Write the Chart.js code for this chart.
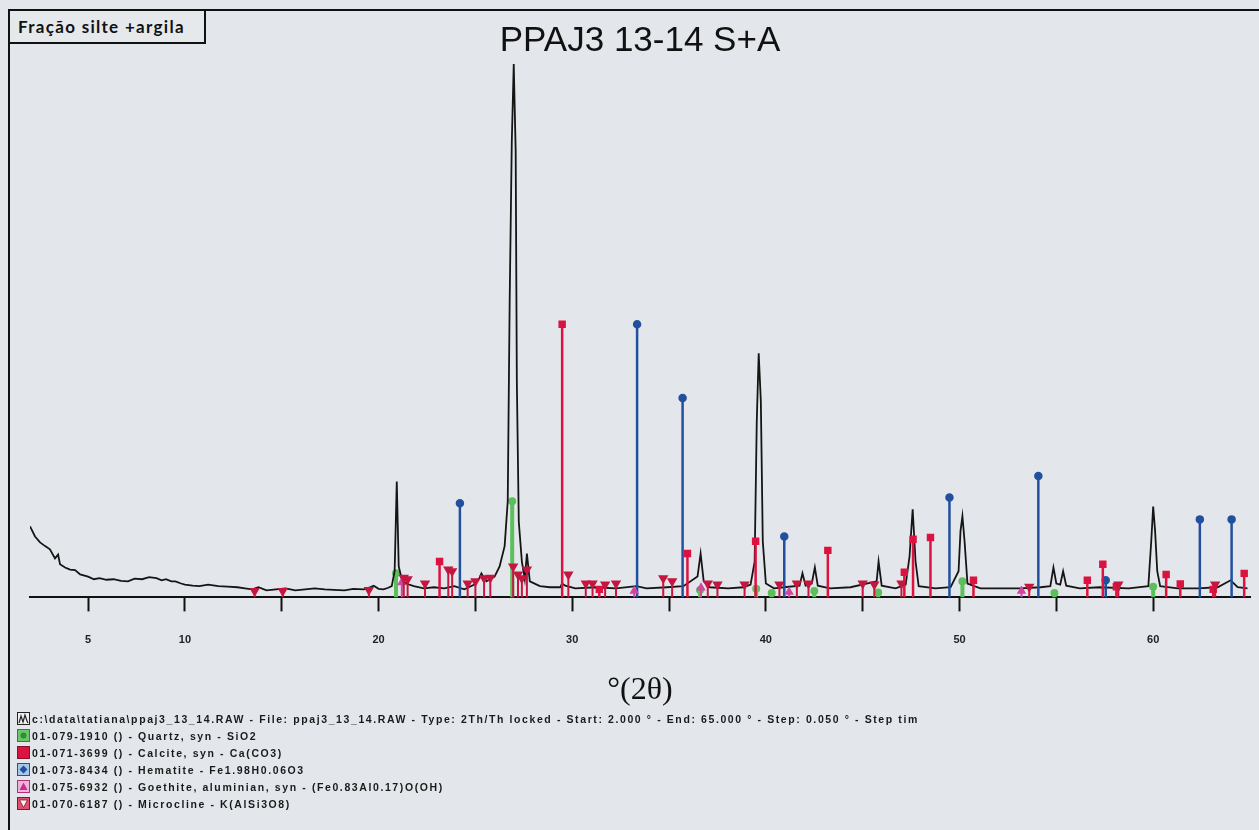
<!DOCTYPE html>
<html>
<head>
<meta charset="utf-8">
<script src="https://cdn.jsdelivr.net/npm/chart.js@4.4.1/dist/chart.umd.min.js"></script>
<style>
  html, body { margin: 0; padding: 0; background: #e3e7eb; }
  body { width: 1259px; height: 830px; position: relative; overflow: hidden; }
  #frame { position: absolute; left: 8px; top: 9px; width: 1260px; height: 830px; border-left: 2px solid #111; border-top: 2px solid #111; }
  #tag { position: absolute; left: 8px; top: 9px; width: 186px; height: 31px; border: 2px solid #111; font: 700 17px 'Lato', sans-serif; letter-spacing: 1.3px; color: #111; line-height: 31px; padding-left: 8px; box-sizing: content-box; background: #e5e9ec; white-space: nowrap; }
  #chart { position: absolute; left: 0; top: 0; }
  #legend { position: absolute; left: 17px; top: 710px; font: 700 10.5px 'Liberation Sans', sans-serif; color: #1a1a1a; letter-spacing: 1.6px; }
  #legend div { height: 17px; display: flex; align-items: center; white-space: nowrap; }
  #legend svg { margin-right: 2px; flex: none; }
  #legend .first { width: 901px; overflow: hidden; }
</style>
</head>
<body>
<div id="frame"></div>
<canvas id="chart" width="1259" height="830"></canvas>
<div id="tag">Fração silte +argila</div>
<div id="legend"></div>

<script>
// measured pattern, 2theta (deg) and counts (arbitrary)
const twoTheta = [2.00, 2.26, 2.52, 2.78, 3.03, 3.29, 3.45, 3.55, 3.81, 4.07, 4.33, 4.59, 5.00, 5.30, 5.59, 5.95, 6.32, 6.70,
    7.06, 7.40, 7.79, 8.15, 8.53, 8.80, 9.02, 9.30, 9.51, 9.80, 10.00, 10.40, 10.74, 11.20, 11.73, 12.20, 12.72, 13.10,
    13.47, 13.80, 14.21, 14.70, 15.20, 15.70, 16.21, 16.70, 17.22, 17.70, 18.23, 18.70, 19.24, 19.55, 19.75, 20.00,
    20.26, 20.50, 20.68, 20.83, 20.94, 21.04, 21.20, 21.41, 21.82, 22.34, 22.86, 23.39, 23.91, 24.43, 24.95, 25.21,
    25.31, 25.57, 25.99, 26.25, 26.51, 26.67, 26.77, 26.88, 26.98, 27.08, 27.14, 27.24, 27.40, 27.55, 27.66, 27.81,
    28.33, 28.85, 29.38, 29.48, 29.64, 30.16, 31.21, 32.26, 33.32, 33.84, 34.89, 35.74, 36.47, 36.63, 36.79, 37.11,
    38.05, 38.84, 39.21, 39.42, 39.53, 39.63, 39.74, 39.84, 40.00, 40.42, 40.95, 41.74, 41.89, 42.05, 42.37, 42.53,
    42.68, 43.32, 44.37, 45.72, 45.82, 45.98, 46.70, 47.22, 47.42, 47.58, 47.73, 47.89, 48.76, 49.54, 49.95, 50.05,
    50.15, 50.26, 50.41, 51.08, 52.11, 53.14, 54.18, 54.69, 54.85, 55.00, 55.20, 55.35, 55.51, 56.21, 57.22, 58.74,
    59.75, 59.90, 60.00, 60.10, 60.21, 60.36, 61.28, 62.31, 63.33, 64.00, 64.36, 64.87];
const counts = [133, 114, 103, 96, 90, 73, 80, 62, 56, 52, 51, 43, 39, 34, 36, 33, 34, 31,
    30, 35, 34, 38, 36, 32, 34, 30, 30, 26, 24, 22, 21, 24, 21, 20, 19, 17,
    15, 19, 13, 15, 17, 13, 15, 17, 15, 14, 13, 16, 15, 19, 22, 16,
    15, 18, 21, 49, 217, 58, 34, 26, 21, 17, 19, 17, 21, 15, 24, 36,
    45, 30, 39, 58, 96, 180, 554, 854, 998, 835, 405, 142, 67, 34, 82, 30,
    21, 19, 19, 26, 22, 17, 19, 17, 21, 17, 19, 21, 39, 82, 30, 19,
    17, 19, 24, 67, 330, 457, 367, 105, 26, 17, 19, 22, 45, 22, 26, 56,
    22, 17, 19, 30, 67, 22, 17, 24, 77, 165, 67, 21, 17, 19, 49, 124,
    152, 105, 26, 17, 17, 17, 19, 21, 56, 26, 24, 49, 22, 17, 19, 17,
    21, 105, 170, 124, 49, 21, 17, 17, 19, 32, 19, 17];

// reference sticks per phase
const quartzPos = [20.9, 26.9, 36.6, 39.5, 40.3, 42.5, 45.8, 50.15, 54.9, 60.0];
const quartzInt = [45, 180, 14, 16, 8, 12, 9, 30, 8, 20];
const calcitePos = [23.15, 29.48, 31.4, 35.95, 39.47, 43.2, 47.15, 47.6, 48.5, 50.72, 56.6, 57.4, 58.1, 60.67, 61.4, 63.1, 64.7];
const calciteInt = [67, 511, 15, 82, 105, 88, 47, 109, 112, 32, 32, 62, 20, 43, 25, 15, 45];
const hematitePos = [24.2, 33.35, 35.7, 40.95, 49.48, 54.07, 57.55, 62.41, 64.05];
const hematiteInt = [176, 511, 373, 114, 187, 227, 32, 146, 146];
const goethitePos = [21.2, 33.2, 36.65, 41.2, 53.2];
const goethiteInt = [28, 12, 18, 10, 12];
const microclinePos = [13.6, 15.05, 19.5, 21.3, 21.5, 22.4, 23.6, 23.8, 24.6, 25.0, 25.45, 25.77, 26.95, 27.2, 27.4, 27.66,
    29.8, 30.7, 31.05, 31.7, 32.26, 34.7, 35.16, 37.0, 37.5, 38.9, 40.7, 41.6, 42.2, 45.0, 45.6, 47.0, 53.6, 58.2, 63.2];
const microcline = [12, 12, 14, 37, 34, 26, 52, 49, 26, 30, 36, 37, 58, 43, 36, 52,
    43, 26, 26, 24, 26, 36, 30, 26, 24, 24, 24, 26, 26, 26, 24, 26, 20, 24, 24];

const xTicks = [5, 10, 15, 20, 25, 30, 35, 40, 45, 50, 55, 60];
const xLabeled = [5, 10, 20, 30, 40, 50, 60];

const legendItems = [
    'c:\\data\\tatiana\\ppaj3_13_14.RAW - File: ppaj3_13_14.RAW - Type: 2Th/Th locked - Start: 2.000 ° - End: 65.000 ° - Step: 0.050 ° - Step time: 1.',
    '01-079-1910 () - Quartz, syn - SiO2',
    '01-071-3699 () - Calcite, syn - Ca(CO3)',
    '01-073-8434 () - Hematite - Fe1.98H0.06O3',
    '01-075-6932 () - Goethite, aluminian, syn - (Fe0.83Al0.17)O(OH)',
    '01-070-6187 () - Microcline - K(AlSi3O8)'
];

// stick line: base, top, gap
const sticks = (pos, val) => {
    const out = [];
    pos.forEach((p, i) => {
        out.push({ x: p, y: 0 }, { x: p, y: val[i] }, { x: p, y: null });
    });
    return out;
};

const stickSet = (label, pos, val, color, style, radius, rotation, width, order) => ({
    label,
    data: sticks(pos, val),
    borderColor: color,
    backgroundColor: color,
    borderWidth: width,
    pointStyle: style,
    rotation,
    pointRadius: ctx => ctx.dataIndex % 3 === 1 ? radius : 0,
    pointHoverRadius: 0,
    spanGaps: false,
    order
});

Chart.defaults.font.family = "'Liberation Sans', Arial, sans-serif";

new Chart(document.getElementById('chart'), {
    type: 'line',
    data: {
        datasets: [
            {
                label: 'pattern',
                data: twoTheta.map((t, i) => ({ x: t, y: counts[i] })),
                borderColor: '#151515',
                borderWidth: 1.8,
                pointRadius: 0,
                tension: 0,
                order: 1
            },
            stickSet('Quartz', quartzPos, quartzInt, '#5cbf5c', 'circle', 2, 0, 4, 2),
            stickSet('Microcline', microclinePos, microcline, '#c4163f', 'triangle', 4, 180, 2, 0),
            stickSet('Goethite', goethitePos, goethiteInt, '#d245a0', 'triangle', 3.5, 0, 2, 0),
            stickSet('Calcite', calcitePos, calciteInt, '#dc1240', 'rect', 3.5, 0, 2.5, 0),
            stickSet('Hematite', hematitePos, hematiteInt, '#22509e', 'circle', 3, 0, 2.5, 0)
        ]
    },
    options: {
        responsive: false,
        animation: false,
        devicePixelRatio: 1,
        layout: { padding: { left: 30, right: 9, top: 0, bottom: 120 } },
        plugins: {
            legend: { display: false },
            tooltip: { enabled: false },
            title: {
                display: true,
                text: 'PPAJ3 13-14 S+A',
                color: '#111',
                font: { size: 35, weight: 'normal' },
                padding: { top: 20, bottom: 1 }
            }
        },
        scales: {
            x: {
                type: 'linear',
                min: 2,
                max: 65,
                afterBuildTicks: axis => { axis.ticks = xTicks.map(v => ({ value: v })); },
                ticks: {
                    autoSkip: false,
                    maxRotation: 0,
                    padding: 22,
                    color: '#222',
                    font: { size: 11, weight: 'bold' },
                    callback: v => xLabeled.includes(v) ? String(v) : ''
                },
                grid: { drawOnChartArea: false, tickLength: 14, tickColor: '#111', tickWidth: 2 },
                border: { display: true, color: '#111', width: 2 },
                title: {
                    display: true,
                    text: '°(2θ)',
                    color: '#111',
                    font: { family: "'Liberation Serif', serif", size: 32 },
                    padding: { top: 3, bottom: 0 }
                }
            },
            y: { display: false, min: 0, max: 1000 }
        }
    }
});

// legend rows
const icons = [
    '<svg width="13" height="13"><rect x="0.5" y="0.5" width="12" height="12" fill="#eee" stroke="#222"/><path d="M2 11 L4 4 L6 10 L8 3 L10 9 L11 11" fill="none" stroke="#222" stroke-width="1.2"/></svg>',
    '<svg width="13" height="13"><rect x="0.5" y="0.5" width="12" height="12" fill="#6cc46c" stroke="#3a7a3a"/><circle cx="6.5" cy="6.5" r="3" fill="#2f8f2f"/></svg>',
    '<svg width="13" height="13"><rect x="0.5" y="0.5" width="12" height="12" fill="#dc1240" stroke="#8a1030"/></svg>',
    '<svg width="13" height="13"><rect x="0.5" y="0.5" width="12" height="12" fill="#a9c6ea" stroke="#22509e"/><path d="M6.5 2.5 L10.5 6.5 L6.5 10.5 L2.5 6.5 Z" fill="#22509e"/></svg>',
    '<svg width="13" height="13"><rect x="0.5" y="0.5" width="12" height="12" fill="#f0b4d8" stroke="#b0307f"/><path d="M6.5 2.5 L10.5 10 L2.5 10 Z" fill="#c0308c"/></svg>',
    '<svg width="13" height="13"><rect x="0.5" y="0.5" width="12" height="12" fill="#e0506e" stroke="#8a1030"/><path d="M2.5 3 L10.5 3 L6.5 10.5 Z" fill="#fff2f4" stroke="#8a1030" stroke-width="0.8"/></svg>'
];
document.getElementById('legend').innerHTML = legendItems
    .map((t, i) => `<div class="${i === 0 ? 'first' : ''}">${icons[i]}<span>${t}</span></div>`)
    .join('');
</script>
</body>
</html>
